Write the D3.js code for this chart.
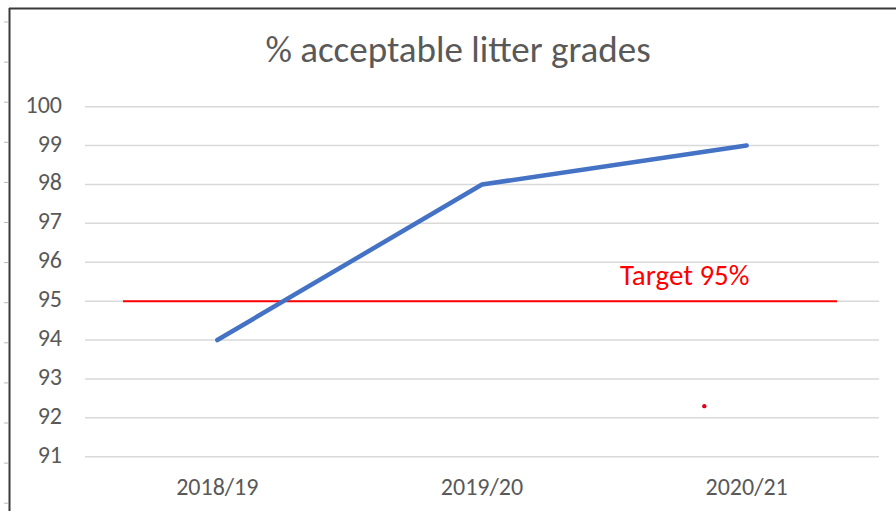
<!DOCTYPE html>
<html>
<head>
<meta charset="utf-8">
<script src="https://cdn.jsdelivr.net/npm/d3@7"></script>
<style>
  html, body { margin: 0; padding: 0; background: #fff; }
  svg { display: block; font-family: Carlito, "Liberation Sans", "Open Sans", sans-serif; }
</style>
</head>
<body>
<svg id="chart" width="896" height="511"></svg>
<script>
// Chart data
const years = ["2018/19", "2019/20", "2020/21"];
const litterValues = [94, 98, 99];
const yTicks = [91, 92, 93, 94, 95, 96, 97, 98, 99, 100];
const targetValue = 95;
const targetLabel = "Target 95%";
const strayPoint = [{ year: "2020/21", offset: -0.16, value: 92.3 }];

const svg = d3.select("#chart");

const plot = { left: 85, right: 879, top: 106.7, bottom: 456.7 };

const x = d3.scaleBand()
  .domain(years)
  .range([plot.left, plot.right]);

const y = d3.scaleLinear()
  .domain([91, 100])
  .range([plot.bottom, plot.top]);

// Sheet frame (left and top edges with row marks)
svg.append("line")
  .attr("x1", 9.5).attr("x2", 9.5)
  .attr("y1", 8).attr("y2", 511)
  .attr("stroke", "#3a3a3a").attr("stroke-width", 2);
svg.append("line")
  .attr("x1", 9).attr("x2", 896)
  .attr("y1", 8.5).attr("y2", 8.5)
  .attr("stroke", "#3a3a3a").attr("stroke-width", 2);
svg.selectAll(".rowmark")
  .data(d3.range(22, 511, 40.1))
  .enter()
  .append("line")
  .attr("x1", 4).attr("x2", 8)
  .attr("y1", d => d).attr("y2", d => d)
  .attr("stroke", "#bbb").attr("stroke-width", 1);

// Title
svg.append("text")
  .attr("x", 458)
  .attr("y", 62)
  .attr("text-anchor", "middle")
  .attr("fill", "#595959")
  .style("font-size", "37px")
  .text("% acceptable litter grades");

// Gridlines
svg.selectAll(".grid")
  .data(yTicks)
  .enter()
  .append("line")
  .attr("class", "grid")
  .attr("x1", plot.left).attr("x2", plot.right)
  .attr("y1", d => y(d)).attr("y2", d => y(d))
  .attr("stroke", "#d9d9d9")
  .attr("stroke-width", 1.5);

// Y axis labels
svg.selectAll(".ylabel")
  .data(yTicks)
  .enter()
  .append("text")
  .attr("x", 62)
  .attr("y", d => y(d) + 6)
  .attr("text-anchor", "end")
  .attr("fill", "#595959")
  .style("font-size", "24px")
  .text(d => d);

// X axis labels
svg.selectAll(".xlabel")
  .data(years)
  .enter()
  .append("text")
  .attr("x", d => x(d) + x.bandwidth() / 2)
  .attr("y", 495)
  .attr("text-anchor", "middle")
  .attr("fill", "#595959")
  .style("font-size", "24px")
  .text(d => d);

// Target line
svg.append("line")
  .attr("x1", 123).attr("x2", 837)
  .attr("y1", y(targetValue)).attr("y2", y(targetValue))
  .attr("stroke", "#ff0000")
  .attr("stroke-width", 2);

svg.append("text")
  .attr("x", 620)
  .attr("y", 285)
  .attr("fill", "#ff0000")
  .style("font-size", "29px")
  .text(targetLabel);

// Stray red dot
svg.selectAll(".dot")
  .data(strayPoint)
  .enter()
  .append("circle")
  .attr("cx", d => x(d.year) + x.bandwidth() * (0.5 + d.offset))
  .attr("cy", d => y(d.value))
  .attr("r", 2.2)
  .attr("fill", "#e0001a");

// Series line
const line = d3.line()
  .x((d, i) => x(years[i]) + x.bandwidth() / 2)
  .y(d => y(d));

svg.append("path")
  .datum(litterValues)
  .attr("d", line)
  .attr("fill", "none")
  .attr("stroke", "#4472c4")
  .attr("stroke-width", 4.5)
  .attr("stroke-linecap", "round")
  .attr("stroke-linejoin", "round");
</script>
</body>
</html>
